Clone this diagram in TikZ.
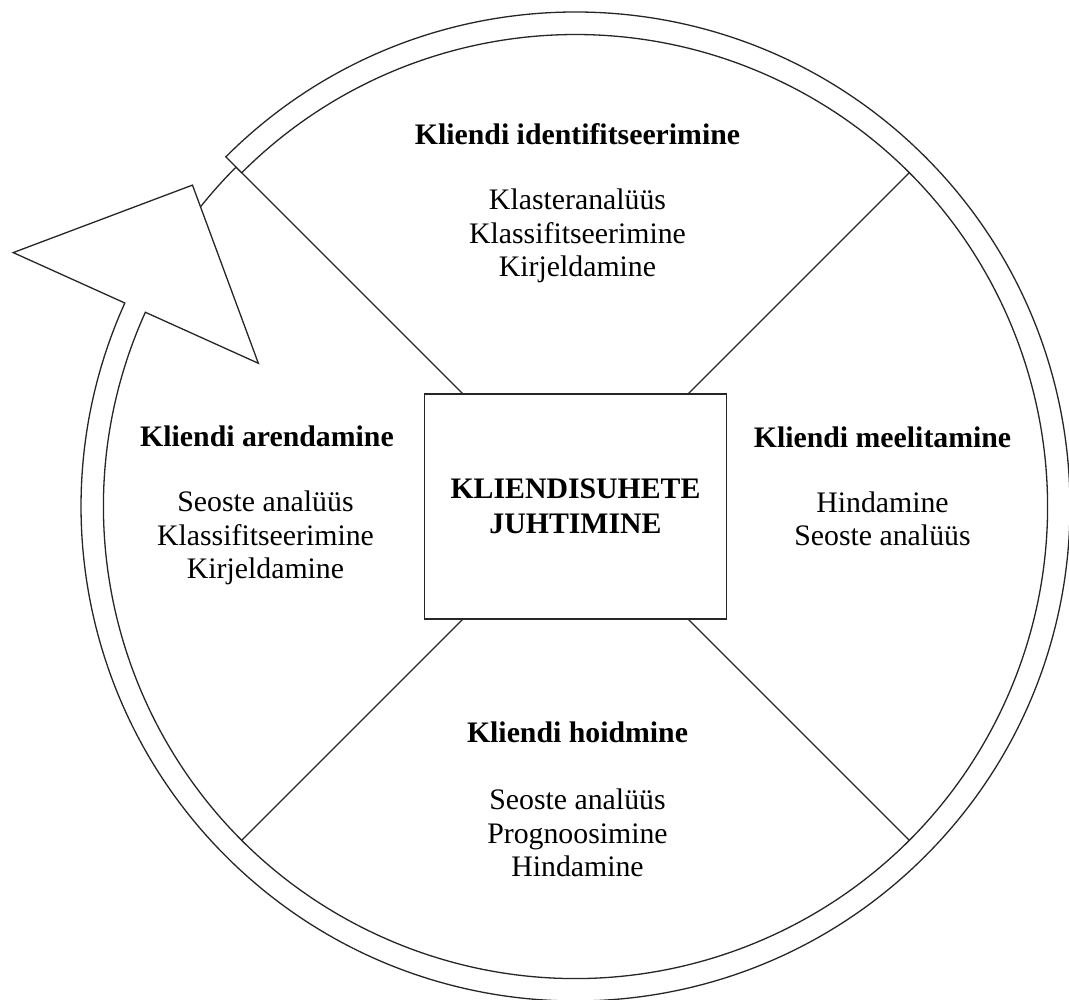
\documentclass[tikz,border=0pt]{standalone}
\usepackage{fontspec}
\setmainfont{Liberation Serif}
\usetikzlibrary{calc}
\begin{document}
\begin{tikzpicture}[x=1bp,y=1bp,
  ln/.style={line width=1.3bp, draw=black!85},
  head/.style={anchor=base, inner sep=0pt, font=\fontsize{29.9}{33.5}\selectfont\bfseries},
  items/.style={anchor=base, inner sep=0pt, font=\fontsize{29.9}{33.5}\selectfont},
  corebox/.style={ln, fill=white, minimum width=302bp, minimum height=225bp, inner sep=0pt, align=center, font=\fontsize{29.9}{35}\selectfont\bfseries}]
\useasboundingbox (0,0) rectangle (1069,1000);
\coordinate (O) at (575.5,493.5);
% underlying circle and sector dividers
\draw[ln] (O) circle[radius=480];
\coordinate (ne) at ($(O)+(45:480)$);
\coordinate (nw) at ($(O)+(135:480)$);
\coordinate (sw) at ($(O)+(225:480)$);
\coordinate (se) at ($(O)+(315:480)$);
\draw[ln] (O) -- (ne);
\draw[ln] (O) -- (nw);
\draw[ln] (O) -- (sw);
\draw[ln] (O) -- (se);
% circular block arrow
\begin{scope}[shift={(O)}]
\draw[ln, fill=white, line join=miter]
  (135:494.5) arc[start angle=135, end angle=-204.3, radius=494.5]
  -- (155.7:617) -- (140:500) -- (155.7:348) -- (155.7:472)
  arc[start angle=-204.3, end angle=135, radius=472] -- cycle;
\end{scope}
% central box
\node[corebox] (core) at (O) {KLIENDISUHETE\\JUHTIMINE};
% top
\node[head] (h1) at (577.5,855) {Kliendi identifitseerimine};
\node[items] (i1) at (577.5,790) {\begin{tabular}[t]{@{}c@{}}Klasteranalüüs\\Klassifitseerimine\\Kirjeldamine\end{tabular}};
% right
\node[head] (h2) at (882.5,552.5) {Kliendi meelitamine};
\node[items] (i2) at (882.5,487.5) {\begin{tabular}[t]{@{}c@{}}Hindamine\\Seoste analüüs\end{tabular}};
% left
\node[head] (h3) at (267,553.5) {Kliendi arendamine};
\node[items] (i3) at (265.5,488) {\begin{tabular}[t]{@{}c@{}}Seoste analüüs\\Klassifitseerimine\\Kirjeldamine\end{tabular}};
% bottom
\node[head] (h4) at (577.5,257) {Kliendi hoidmine};
\node[items] (i4) at (577.5,190) {\begin{tabular}[t]{@{}c@{}}Seoste analüüs\\Prognoosimine\\Hindamine\end{tabular}};
\end{tikzpicture}
\end{document}
